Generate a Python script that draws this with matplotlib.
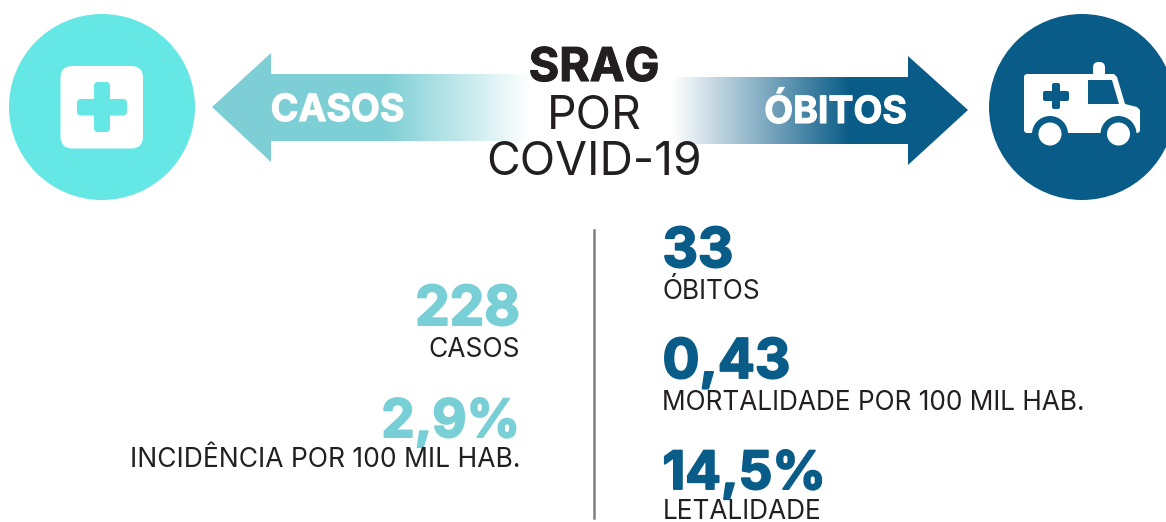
import matplotlib
matplotlib.use("Agg")
import matplotlib.pyplot as plt
import matplotlib.patheffects as pe
from matplotlib.colors import LinearSegmentedColormap
from matplotlib.patches import Circle, FancyBboxPatch, Polygon
import numpy as np

# dane z infografiki
title_lines = ["SRAG", "POR", "COVID-19"]
arrow_labels = ["CASOS", "ÓBITOS"]
left_values = ["228", "2,9%"]
left_labels = ["CASOS", "INCIDÊNCIA POR 100 MIL HAB."]
right_values = ["33", "0,43", "14,5%"]
right_labels = ["ÓBITOS", "MORTALIDADE POR 100 MIL HAB.", "LETALIDADE"]

CIRCLE_TEAL = "#64E7E5"
ARROW_TEAL = "#7ECFD5"
NUMBER_TEAL = "#78CFD6"
BLUE = "#0A5C88"
DARK = "#231F20"
BODY = "Inter"

fig = plt.figure(figsize=(11.66, 5.22), dpi=100)
ax = fig.add_axes([0, 0, 1, 1])


def gradientArrow(points, extent, color, flip):
    # gradient przycięty do kształtu strzałki
    cmap = LinearSegmentedColormap.from_list("g", ["#FFFFFF", color])
    x = np.linspace(0, 1, 256)
    if flip:
        x = x[::-1]
    im = ax.imshow(x.reshape(1, -1), extent=extent, cmap=cmap, aspect="auto", zorder=1, vmin=0, vmax=1)
    shape = Polygon(points, closed=True, fc="none", ec="none", transform=ax.transData)
    ax.add_patch(shape)
    im.set_clip_path(shape)


def rounded(x0, y0, x1, y1, r, color, z):
    ax.add_patch(FancyBboxPatch((x0 + r, y0 + r), x1 - x0 - 2 * r, y1 - y0 - 2 * r,
                                boxstyle="round,pad=%f,rounding_size=%f" % (r, r),
                                fc=color, ec="none", zorder=z))


def heavy(x, y, s, size, color, ha, stroke):
    ax.text(x, y, s, fontsize=size, family=BODY, weight="bold", color=color, ha=ha, va="baseline", zorder=6,
            path_effects=[pe.withStroke(linewidth=stroke, foreground=color)])


def light(x, y, s, size, ha):
    ax.text(x, y, s, fontsize=size, family=BODY, color=DARK, ha=ha, va="baseline", zorder=6)


# strzałki
gradientArrow([(385, 74), (530, 74), (530, 141), (385, 141)], (385, 530, 162, 53), ARROW_TEAL, True)
ax.add_patch(Polygon([(212, 107), (271, 53), (271, 74), (386, 74), (386, 141), (271, 141), (271, 162)],
                     closed=True, fc=ARROW_TEAL, ec="none", zorder=1))
gradientArrow([(672, 77), (850, 77), (850, 144), (672, 144)], (672, 850, 165, 56), BLUE, False)
ax.add_patch(Polygon([(849, 77), (908, 77), (908, 56), (968, 110), (908, 165), (908, 144), (849, 144)],
                     closed=True, fc=BLUE, ec="none", zorder=1))

# lewa ikona
ax.add_patch(Circle((102, 107), 93, fc=CIRCLE_TEAL, ec="none", zorder=2))
rounded(60.5, 66, 143, 148.5, 12, "white", 3)
rounded(77, 99, 127, 115.5, 4, CIRCLE_TEAL, 4)
rounded(94, 82, 110, 132, 4, CIRCLE_TEAL, 4)

# prawa ikona - karetka
ax.add_patch(Circle((1082, 107), 93, fc=BLUE, ec="none", zorder=2))
rounded(1093, 62, 1105, 80, 5.5, "white", 3)
ax.add_patch(Polygon([(1024, 76), (1026, 74), (1114, 74), (1117, 77), (1125, 104), (1137, 107), (1140, 110),
                      (1140, 131), (1138, 133), (1026, 133), (1024, 131)],
                     closed=True, fc="white", ec="none", zorder=3))
ax.add_patch(Polygon([(1088, 80), (1112, 80), (1119, 104), (1088, 104)], closed=True, fc=BLUE, ec="none", zorder=4))
rounded(1043, 91, 1069, 101, 2, BLUE, 4)
rounded(1052, 83, 1060, 109, 2, BLUE, 4)
for wheel_x in [1050, 1118.5]:
    ax.add_patch(Circle((wheel_x, 134), 18, fc=BLUE, ec="none", zorder=4))
    ax.add_patch(Circle((wheel_x, 134), 11.5, fc="white", ec="none", zorder=5))

# tytuł
heavy(594, 81, title_lines[0], 33.5, DARK, "center", 0.8)
light(594, 129, title_lines[1], 33.3, "center")
light(594, 175, title_lines[2], 33.3, "center")

heavy(337.5, 121, arrow_labels[0], 27, "white", "center", 0.8)
heavy(835.5, 123, arrow_labels[1], 27, "white", "center", 0.8)

# linia środkowa
ax.plot([594, 594], [230, 518], color="#808080", lw=1.8, zorder=1)

# liczby po lewej
left_y = [325, 437]
left_label_y = [357, 467]
for value, label, y, ly in zip(left_values, left_labels, left_y, left_label_y):
    heavy(520, y, value, 38 if "%" in value else 39.5, NUMBER_TEAL, "right", 1.4)
    light(520, ly, label, 19, "right")

# liczby po prawej
right_y = [267, 378, 489]
right_label_y = [299, 410, 519]
for value, label, y, ly in zip(right_values, right_labels, right_y, right_label_y):
    heavy(662.5, y, value, 38 if "%" in value else 39.5, BLUE, "left", 1.4)
    light(662.5, ly, label, 18.9, "left")

ax.set_xlim(0, 1166)
ax.set_ylim(522, 0)
ax.axis("off")
fig.savefig("out.png", dpi=100)
